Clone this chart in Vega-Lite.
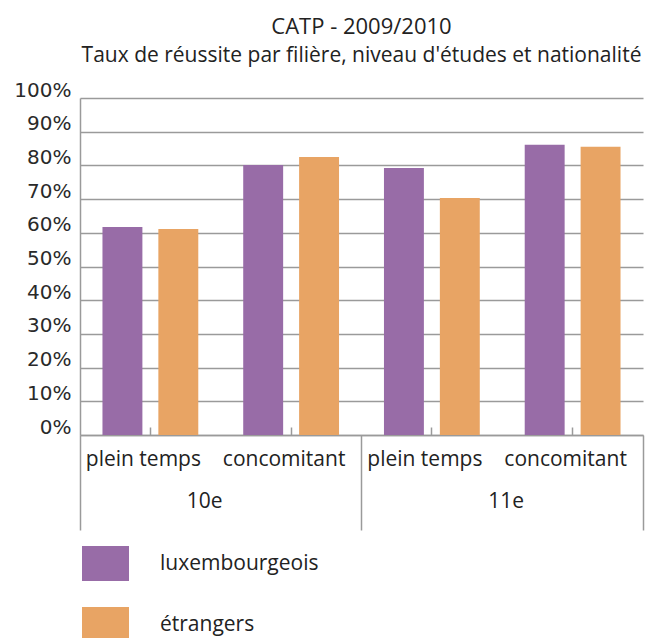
{
  "$schema": "https://vega.github.io/schema/vega-lite/v6.json",
  "autosize": "none",
  "width": 563,
  "height": 337,
  "padding": {"left": 80, "top": 98, "right": 3, "bottom": 203},
  "background": "white",
  "config": {
    "font": "Open Sans",
    "view": {"stroke": null}
  },
  "title": {
    "text": "CATP - 2009/2010",
    "subtitle": "Taux de réussite par filière, niveau d'études et nationalité",
    "anchor": "middle",
    "fontSize": 22,
    "fontWeight": "normal",
    "color": "#222222",
    "subtitleFontSize": 21,
    "subtitleColor": "#222222",
    "subtitlePadding": 6,
    "offset": 13
  },
  "data": {
    "values": [
      {"niveau": "10e", "filiere": "plein temps", "cat": "10e|plein temps", "nationalite": "luxembourgeois", "taux": 0.617},
      {"niveau": "10e", "filiere": "plein temps", "cat": "10e|plein temps", "nationalite": "étrangers", "taux": 0.611},
      {"niveau": "10e", "filiere": "concomitant", "cat": "10e|concomitant", "nationalite": "luxembourgeois", "taux": 0.801},
      {"niveau": "10e", "filiere": "concomitant", "cat": "10e|concomitant", "nationalite": "étrangers", "taux": 0.825},
      {"niveau": "11e", "filiere": "plein temps", "cat": "11e|plein temps", "nationalite": "luxembourgeois", "taux": 0.792},
      {"niveau": "11e", "filiere": "plein temps", "cat": "11e|plein temps", "nationalite": "étrangers", "taux": 0.703},
      {"niveau": "11e", "filiere": "concomitant", "cat": "11e|concomitant", "nationalite": "luxembourgeois", "taux": 0.861},
      {"niveau": "11e", "filiere": "concomitant", "cat": "11e|concomitant", "nationalite": "étrangers", "taux": 0.855}
    ]
  },
  "layer": [
    {
      "mark": {"type": "bar", "clip": false},
      "encoding": {
        "x": {
          "field": "cat",
          "type": "nominal",
          "sort": null,
          "scale": {"paddingInner": 0, "paddingOuter": 0},
          "axis": {
            "title": null,
            "orient": "bottom",
            "labelExpr": "split(datum.label, '|')[1]",
            "labelAngle": 0,
            "labelFontSize": 21,
            "labelColor": "#222222",
            "labelPadding": 21,
            "labelOffset": -7,
            "domainColor": "#9a9a9a",
            "domainWidth": 1.5,
            "ticks": true,
            "bandPosition": 0.5,
            "tickSize": -8,
            "tickColor": "#9a9a9a",
            "tickWidth": 1.5,
            "grid": false
          }
        },
        "xOffset": {
          "field": "nationalite",
          "type": "nominal",
          "sort": ["luxembourgeois", "étrangers"],
          "scale": {"paddingInner": 0.2857, "paddingOuter": 0.402}
        },
        "y": {
          "field": "taux",
          "type": "quantitative",
          "scale": {"domain": [0, 1]},
          "axis": {
            "title": null,
            "values": [0, 0.1, 0.2, 0.3, 0.4, 0.5, 0.6, 0.7, 0.8, 0.9, 1],
            "format": ".0%",
            "labelFont": "DejaVu Sans",
            "labelFontSize": 20,
            "labelColor": "#2a2a2a",
            "labelPadding": 9,
            "labelBaseline": "alphabetic",
            "labelOffset": -2,
            "ticks": false,
            "domain": true,
            "domainColor": "#9a9a9a",
            "domainWidth": 1.5,
            "grid": true,
            "gridColor": "#9a9a9a",
            "gridWidth": 1.5
          }
        },
        "color": {
          "field": "nationalite",
          "type": "nominal",
          "sort": ["luxembourgeois", "étrangers"],
          "scale": {"domain": ["luxembourgeois", "étrangers"], "range": ["#986ca7", "#e8a464"]},
          "legend": {
            "title": null,
            "orient": "none",
            "legendX": 2,
            "legendY": 442,
            "direction": "vertical",
            "padding": 0,
            "symbolType": "M-1,-0.745H1V0.745H-1Z",
            "symbolSize": 2209,
            "symbolStrokeWidth": 0,
            "symbolOpacity": 1,
            "labelFontSize": 21,
            "labelLimit": 0,
            "labelColor": "#222222",
            "labelOffset": 31,
            "rowPadding": 19
          }
        }
      }
    },
    {
      "mark": {"type": "rect", "opacity": 0},
      "encoding": {
        "x": {
          "field": "niveau",
          "type": "nominal",
          "scale": {"paddingInner": 0, "paddingOuter": 0},
          "axis": {
            "title": null,
            "orient": "bottom",
            "labelAngle": 0,
            "labelFontSize": 21,
            "labelColor": "#222222",
            "labelPadding": -40,
            "labelOffset": {"condition": {"test": "datum.value == '10e'", "value": -16}, "value": 4},
            "domain": false,
            "ticks": true,
            "bandPosition": 1,
            "tickExtra": true,
            "tickSize": 95,
            "tickColor": "#9a9a9a",
            "tickWidth": 1.5,
            "grid": false
          }
        }
      }
    }
  ],
  "resolve": {"scale": {"x": "independent"}, "axis": {"x": "independent"}}
}
